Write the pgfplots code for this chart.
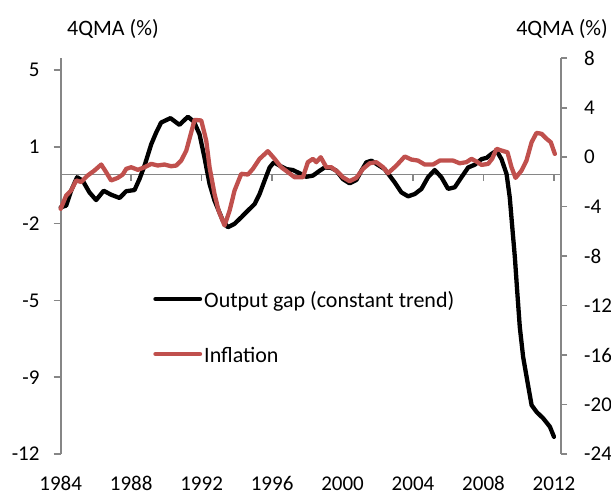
\documentclass[border=0pt]{standalone}
\usepackage{fontspec}
\setmainfont{Carlito}
\usepackage{pgfplots}
\usepackage{pgfplotstable}
\pgfplotsset{compat=1.18}
\definecolor{infl}{HTML}{C0504D}
\definecolor{axgray}{HTML}{868686}

\pgfplotstableread{
year gap
1984.00 -1.40
1984.31 -1.33
1984.59 -0.69
1984.93 -0.11
1985.25 -0.26
1985.63 -0.76
1986.01 -1.09
1986.44 -0.69
1986.86 -0.86
1987.34 -1.00
1987.72 -0.71
1988.19 -0.66
1988.47 -0.19
1988.76 0.39
1989.14 1.31
1989.42 1.81
1989.70 2.24
1990.23 2.43
1990.74 2.14
1991.22 2.49
1991.56 2.28
1991.88 1.74
1992.16 0.74
1992.45 -0.40
1992.73 -1.11
1993.20 -1.97
1993.49 -2.26
1993.87 -2.11
1994.25 -1.83
1994.63 -1.54
1995.01 -1.26
1995.29 -0.83
1995.57 -0.26
1995.86 0.31
1996.10 0.53
1996.43 0.39
1996.81 0.24
1997.18 0.20
1997.56 0.06
1997.94 -0.09
1998.32 -0.04
1998.70 0.17
1998.98 0.31
1999.36 0.29
1999.65 0.17
2000.02 -0.19
2000.40 -0.37
2000.78 -0.23
2001.07 0.17
2001.35 0.53
2001.64 0.60
2002.01 0.42
2002.39 0.24
2002.60 0.03
2002.96 -0.33
2003.34 -0.76
2003.72 -0.93
2004.10 -0.83
2004.48 -0.61
2004.85 -0.11
2005.23 0.20
2005.61 -0.11
2005.99 -0.61
2006.37 -0.54
2006.75 -0.11
2007.13 0.31
2007.51 0.43
2007.89 0.67
2008.17 0.72
2008.45 0.89
2008.74 1.03
2009.02 0.67
2009.31 0.03
2009.49 -0.97
2009.65 -2.40
2009.78 -3.54
2009.91 -4.97
2010.06 -6.54
2010.25 -7.83
2010.48 -8.83
2010.73 -9.90
2011.01 -10.19
2011.39 -10.47
2011.77 -10.83
2012.00 -11.26
}\gaptable

\pgfplotstableread{
year infl
1984.00 -4.17
1984.31 -3.10
1984.59 -2.70
1984.88 -1.88
1985.16 -2.00
1985.53 -1.48
1985.91 -1.08
1986.30 -0.59
1986.58 -1.21
1986.86 -1.88
1987.24 -1.67
1987.52 -1.40
1987.72 -0.94
1988.00 -0.81
1988.38 -1.02
1988.76 -0.81
1989.14 -0.54
1989.51 -0.67
1989.89 -0.59
1990.27 -0.73
1990.56 -0.67
1990.84 -0.27
1991.13 0.54
1991.41 2.02
1991.60 3.02
1991.98 2.97
1992.26 1.35
1992.45 -0.81
1992.73 -2.96
1992.96 -4.31
1993.30 -5.52
1993.59 -4.31
1993.87 -2.69
1994.25 -1.34
1994.63 -1.40
1994.91 -0.94
1995.29 -0.13
1995.76 0.49
1996.14 -0.13
1996.52 -0.81
1996.90 -1.21
1997.28 -1.62
1997.75 -1.62
1998.03 -0.40
1998.32 -0.13
1998.51 -0.40
1998.76 0.00
1999.08 -0.81
1999.36 -0.81
1999.74 -1.21
2000.02 -1.62
2000.40 -1.94
2000.78 -1.67
2001.16 -0.94
2001.54 -0.49
2001.92 -0.40
2002.30 -0.81
2002.58 -1.29
2003.06 -0.67
2003.53 0.06
2003.91 -0.19
2004.28 -0.27
2004.66 -0.59
2005.14 -0.59
2005.52 -0.27
2005.90 -0.27
2006.27 -0.27
2006.65 -0.49
2007.03 -0.40
2007.32 -0.13
2007.60 -0.35
2007.89 -0.62
2008.26 -0.54
2008.49 -0.13
2008.74 0.68
2009.02 0.54
2009.36 0.40
2009.59 -0.81
2009.82 -1.67
2010.16 -1.08
2010.44 -0.27
2010.73 1.21
2011.01 1.97
2011.30 1.89
2011.58 1.49
2011.82 1.21
2012.05 0.27
}\infltable

\begin{document}
\fontsize{22bp}{26bp}\selectfont
\begin{tikzpicture}
\path[use as bounding box] (0,0) rectangle (611bp,494bp);
\pgfplotsset{
  common/.style={
    at={(60.7bp,40bp)}, anchor=south west,
    scale only axis, width=500.3bp, height=395.7bp,
    xmin=0, xmax=28.4, clip=false,
    axis line style={-},
    tick label style={font=\fontsize{21bp}{25bp}\selectfont, inner sep=0pt},
    tick align=outside,
    /pgf/number format/assume math mode=true,
  }
}
\begin{axis}[common,
  axis x line*=bottom,
  x axis line style={draw=none},
  xtick={0,4,8,12,16,20,24,28},
  xticklabels={1984,1988,1992,1996,2000,2004,2008,2012},
  major x tick style={draw=none},
  xticklabel style={anchor=base, yshift=-29bp},
  axis y line*=left,
  y axis line style={axgray, line width=1.6bp},
  ymin=-12, ymax=5,
  ytick={-12,-8.7,-5.4,-2.1,1.2,4.5},
  yticklabels={-12,-9,-5,-2,1,5},
  major y tick style={axgray, line width=1.6bp},
  major tick length=7bp,
  yticklabel style={anchor=east},
  yticklabel shift=14bp,
]
\draw[axgray, line width=1.6bp] (axis cs:0,0) -- (axis cs:28.4,0);
\draw[axgray, line width=1.6bp] (axis cs:4,0) -- (axis cs:4,-0.26);
\draw[axgray, line width=1.6bp] (axis cs:8,0) -- (axis cs:8,-0.26);
\draw[axgray, line width=1.6bp] (axis cs:12,0) -- (axis cs:12,-0.26);
\draw[axgray, line width=1.6bp] (axis cs:16,0) -- (axis cs:16,-0.26);
\draw[axgray, line width=1.6bp] (axis cs:20,0) -- (axis cs:20,-0.26);
\draw[axgray, line width=1.6bp] (axis cs:24,0) -- (axis cs:24,-0.26);
\draw[axgray, line width=1.6bp] (axis cs:28,0) -- (axis cs:28,-0.26);
\addplot[black, line width=4.3bp, line join=round, line cap=round] table[x expr=\thisrow{year}-1984, y=gap] {\gaptable};
\end{axis}
\begin{axis}[common,
  axis x line=none, xtick=\empty,
  axis y line*=right,
  y axis line style={axgray, line width=1.6bp},
  ymin=-24, ymax=8,
  ytick={-24,-20,-16,-12,-8,-4,0,4,8},
  yticklabels={-24,-20,-16,-12,-8,-4,0,4,8},
  major y tick style={axgray, line width=1.6bp},
  major tick length=6bp,
  yticklabel shift=0bp,
  yticklabel style={anchor=west, xshift=17bp},
  legend cell align=left,
  legend style={at={(0.1851,0.4119)}, anchor=north west, draw=none, fill=none,
    inner sep=0pt, outer sep=0pt, row sep=34bp, column sep=2bp,
    nodes={inner sep=0pt, text height=16bp, text depth=5bp, font=\fontsize{22bp}{26bp}\selectfont}},
  legend image code/.code={\draw[#1, line cap=round] (2.2bp,2.5bp) -- (46.8bp,2.5bp);},
]
\addlegendimage{black, line width=4.3bp}
\addplot[infl, line width=4.3bp, line join=round, line cap=round] table[x expr=\thisrow{year}-1984, y=infl] {\infltable};
\legend{Output gap (constant trend), Inflation}
\end{axis}
\node[anchor=base west, inner sep=0pt] at (67bp,458bp) {4QMA (\%)};
\node[anchor=base east, inner sep=0pt] at (608bp,458bp) {4QMA (\%)};
\end{tikzpicture}
\end{document}
